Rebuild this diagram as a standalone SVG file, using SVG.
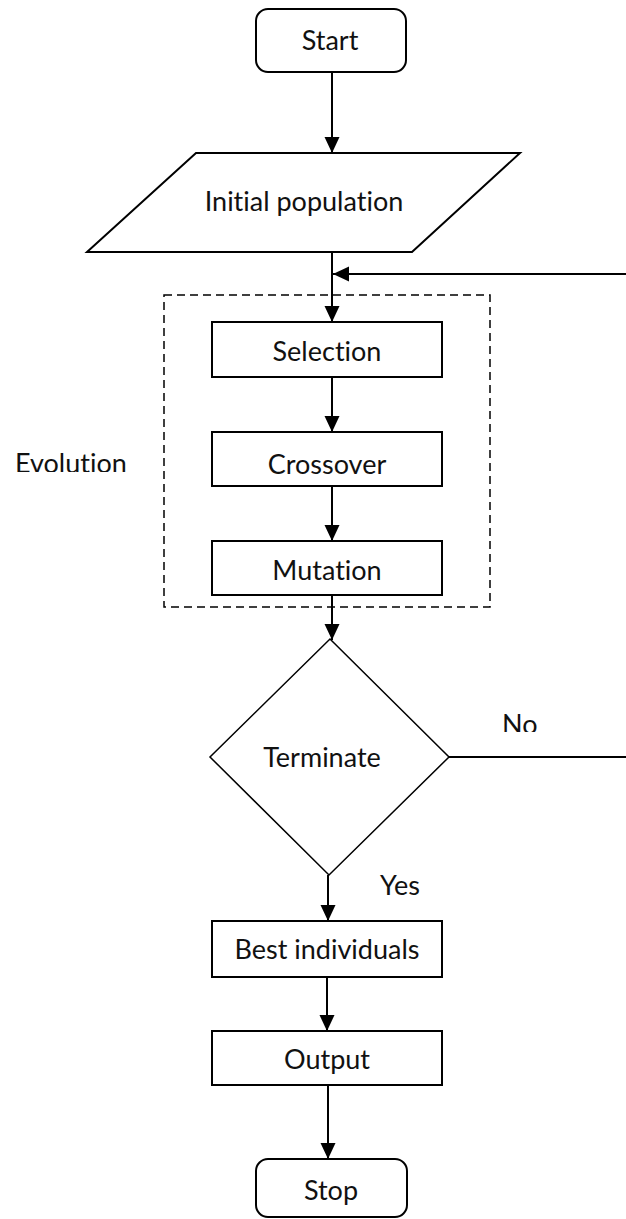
<svg xmlns="http://www.w3.org/2000/svg" width="626" height="1219" viewBox="0 0 626 1219">
<style>
.t{font-family:Lato,"Open Sans",sans-serif;font-size:27px;fill:#111;text-anchor:middle;font-variant-ligatures:none}
.tl{font-family:Lato,"Open Sans",sans-serif;font-size:27px;fill:#111;font-variant-ligatures:none}
.box{fill:#fff;stroke:#000;stroke-width:2}
.dia{fill:#fff;stroke:#000;stroke-width:1.5}
.ln{fill:none;stroke:#000;stroke-width:2}
</style>
<defs>
<marker id="ah" markerUnits="userSpaceOnUse" markerWidth="16" markerHeight="16" viewBox="0 0 16 16" refX="16" refY="8" orient="auto">
<path d="M0,0.5 L16,8 L0,15.5 Z" fill="#000"/>
</marker>
<clipPath id="cNo"><rect x="490" y="700" width="60" height="32"/></clipPath>
<clipPath id="cEv"><rect x="0" y="440" width="150" height="32"/></clipPath>
</defs>
<rect width="626" height="1219" fill="#fff"/>
<g id="evolution">
<rect x="164" y="295" width="326" height="312" fill="none" stroke="#000" stroke-width="1.5" stroke-dasharray="8,5"/>
<text class="tl" x="15" y="473" clip-path="url(#cEv)">Evolution</text>
</g>
<g id="connectors">
<line class="ln" x1="332" y1="72" x2="332" y2="153" marker-end="url(#ah)"/>
<line class="ln" x1="332" y1="252" x2="332" y2="322" marker-end="url(#ah)"/>
<line class="ln" x1="332" y1="377" x2="332" y2="432" marker-end="url(#ah)"/>
<line class="ln" x1="332" y1="486" x2="332" y2="541" marker-end="url(#ah)"/>
<line class="ln" x1="332" y1="595" x2="332" y2="640" marker-end="url(#ah)"/>
<polyline class="ln" points="449,757 632,757 632,274 333,274" marker-end="url(#ah)"/>
<line class="ln" x1="328" y1="875" x2="328" y2="921" marker-end="url(#ah)"/>
<line class="ln" x1="327" y1="977" x2="327" y2="1031" marker-end="url(#ah)"/>
<line class="ln" x1="328" y1="1085" x2="328" y2="1159" marker-end="url(#ah)"/>
<text class="tl" x="502" y="734" clip-path="url(#cNo)">No</text>
<text class="tl" x="380" y="895">Yes</text>
</g>
<g id="start">
<rect class="box" x="256" y="9" width="150" height="63" rx="12"/>
<text class="t" x="330" y="50">Start</text>
</g>
<g id="initial">
<polygon class="box" points="196,153 520,153 412,252 87,252"/>
<text class="t" x="304" y="211">Initial population</text>
</g>
<g id="selection">
<rect class="box" x="212" y="322" width="230" height="55"/>
<text class="t" x="327" y="361">Selection</text>
</g>
<g id="crossover">
<rect class="box" x="212" y="432" width="230" height="54"/>
<text class="t" x="327" y="474">Crossover</text>
</g>
<g id="mutation">
<rect class="box" x="212" y="541" width="230" height="54"/>
<text class="t" x="327" y="580">Mutation</text>
</g>
<g id="terminate">
<polygon class="dia" points="330,639 449,757 329,875 210,757"/>
<text class="t" x="322" y="767">Terminate</text>
</g>
<g id="best">
<rect class="box" x="212" y="921" width="230" height="56"/>
<text class="t" x="327" y="959">Best individuals</text>
</g>
<g id="output">
<rect class="box" x="212" y="1031" width="230" height="54"/>
<text class="t" x="327" y="1069">Output</text>
</g>
<g id="stop">
<rect class="box" x="256" y="1159" width="151" height="58" rx="12"/>
<text class="t" x="331" y="1200">Stop</text>
</g>
</svg>
